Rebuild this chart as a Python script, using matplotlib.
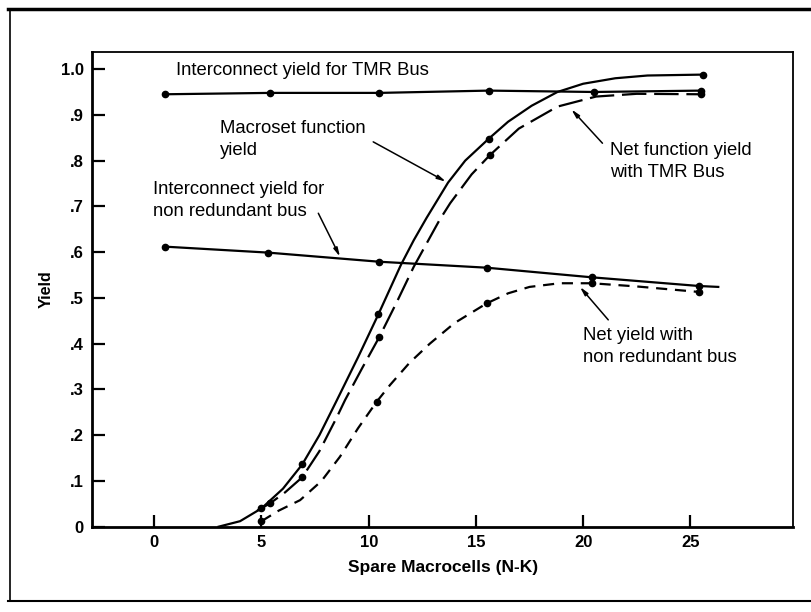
import matplotlib
matplotlib.use("Agg")
import matplotlib.pyplot as plt
from matplotlib.lines import Line2D

plt.rcParams["font.family"] = ["Liberation Sans", "DejaVu Sans"]

# Interconnect yield, TMR bus
tmr_x = [0.5, 5.4, 10.5, 15.6, 20.5, 25.5]
tmr_y = [0.945, 0.948, 0.948, 0.953, 0.950, 0.953]

# Interconnect yield, non redundant bus
nrb_x = [0.5, 5.3, 10.5, 15.5, 20.4, 25.4, 26.3]
nrb_y = [0.612, 0.599, 0.579, 0.566, 0.545, 0.526, 0.524]
nrb_pts = 6  # last point is the line's tail, no marker

# Macroset function yield (solid)
mac_x = [3.0, 4.0, 5.0, 6.0, 6.9, 7.7, 8.5, 9.5, 10.45, 11.5, 12.1, 12.7, 13.7,
         14.5, 15.6, 16.5, 17.6, 18.8, 20.0, 21.5, 23.0, 25.6]
mac_y = [0.0, 0.012, 0.04, 0.083, 0.136, 0.2, 0.275, 0.37, 0.464, 0.572, 0.626,
         0.675, 0.752, 0.80, 0.848, 0.885, 0.92, 0.95, 0.968, 0.98, 0.986, 0.988]
mac_mx = [5.0, 6.9, 10.45, 15.6, 25.6]
mac_my = [0.04, 0.136, 0.464, 0.848, 0.988]

# Net function yield with TMR bus (long dash)
nft_x = [4.8, 5.4, 6.1, 6.9, 7.7, 8.5, 8.9, 9.7, 10.5, 11.3, 12.1, 13.3,
         13.8, 14.8, 15.65, 17.0, 18.8, 20.6, 22.5, 25.5]
nft_y = [0.035, 0.051, 0.075, 0.108, 0.165, 0.238, 0.277, 0.347, 0.415, 0.49,
         0.568, 0.67, 0.707, 0.77, 0.812, 0.87, 0.918, 0.940, 0.946, 0.945]
nft_mx = [5.4, 6.9, 10.5, 15.65, 25.5]
nft_my = [0.051, 0.108, 0.415, 0.812, 0.945]

# Net yield with non redundant bus (short dash)
nyn_x = [5.0, 5.8, 6.8, 7.8, 8.66, 9.5, 10.37, 11.0, 11.9, 12.85, 14.0, 15.5,
         16.5, 17.5, 18.9, 20.4, 22.5, 25.4]
nyn_y = [0.012, 0.035, 0.058, 0.1, 0.153, 0.215, 0.273, 0.31, 0.358, 0.40,
         0.445, 0.488, 0.51, 0.524, 0.532, 0.532, 0.525, 0.513]
nyn_mx = [5.0, 10.37, 15.5, 20.4, 25.4]
nyn_my = [0.012, 0.273, 0.488, 0.532, 0.513]

x_ticks = [0, 5, 10, 15, 20, 25]
y_ticks = [0, 0.1, 0.2, 0.3, 0.4, 0.5, 0.6, 0.7, 0.8, 0.9, 1.0]
y_tick_labels = ["0", ".1", ".2", ".3", ".4", ".5", ".6", ".7", ".8", ".9", "1.0"]

fig = plt.figure(figsize=(8.11, 6.12), dpi=100)

# outer frame of the figure panel
for xs, ys, lw in [([0.01, 1.0], [0.986, 0.986], 2.5),
                   ([0.012, 0.012], [0.018, 0.986], 1.2),
                   ([0.01, 1.0], [0.018, 0.018], 1.5)]:
    fig.add_artist(Line2D(xs, ys, transform=fig.transFigure, color="black", lw=lw))

ax = fig.add_axes([0.1138, 0.1394, 0.8644, 0.7761])
ax.set_xlim(-2.89, 29.8)
ax.set_ylim(0, 1.038)

lw = 1.6
ms = 4.5
ax.plot(tmr_x, tmr_y, "-", color="black", lw=lw)
ax.plot(tmr_x, tmr_y, "o", color="black", ms=ms)
ax.plot(nrb_x, nrb_y, "-", color="black", lw=lw)
ax.plot(nrb_x[:nrb_pts], nrb_y[:nrb_pts], "o", color="black", ms=ms)
ax.plot(mac_x, mac_y, "-", color="black", lw=lw)
ax.plot(mac_mx, mac_my, "o", color="black", ms=ms)
ax.plot(nft_x, nft_y, color="black", lw=lw, dashes=(11, 3.5))
ax.plot(nft_mx, nft_my, "o", color="black", ms=ms)
ax.plot(nyn_x, nyn_y, color="black", lw=lw, dashes=(5, 3.5))
ax.plot(nyn_mx, nyn_my, "o", color="black", ms=ms)

# curve labels with leader lines
tkw = dict(fontsize=13.3, color="black", linespacing=1.38)
ax.text(1.0, 0.997, "Interconnect yield for TMR Bus", va="center", **tkw)
ax.text(3.07, 0.847, "Macroset function\nyield", va="center", **tkw)
ax.text(-0.05, 0.712, "Interconnect yield for\nnon redundant bus", va="center", **tkw)
ax.text(21.25, 0.798, "Net function yield\nwith TMR Bus", va="center", **tkw)
ax.text(20.0, 0.393, "Net yield with\nnon redundant bus", va="center", **tkw)

leaders = [((10.21, 0.841), (13.6, 0.754)),
           ((7.65, 0.685), (8.66, 0.590)),
           ((20.9, 0.838), (19.45, 0.912)),
           ((21.17, 0.452), (19.85, 0.524))]
for start, end in leaders:
    ax.annotate("", xy=end, xytext=start,
                arrowprops=dict(arrowstyle="-|>,head_length=0.5,head_width=0.12",
                                color="black", lw=1.1, shrinkA=0, shrinkB=0))

ax.set_xticks(x_ticks)
ax.set_yticks(y_ticks)
ax.set_yticklabels(y_tick_labels)
ax.tick_params(direction="in", length=9, width=1.6, labelsize=12, pad=6)
for lab in ax.get_xticklabels() + ax.get_yticklabels():
    lab.set_fontweight("bold")
for sp in ax.spines.values():
    sp.set_linewidth(1.3)
ax.spines["bottom"].set_linewidth(2.0)
ax.spines["left"].set_linewidth(2.0)

ax.set_xlabel("Spare Macrocells (N-K)", fontsize=12.5, fontweight="bold", labelpad=7)
ax.set_ylabel("Yield", fontsize=11.5, fontweight="bold", labelpad=5)

fig.savefig("out.png", dpi=100)
